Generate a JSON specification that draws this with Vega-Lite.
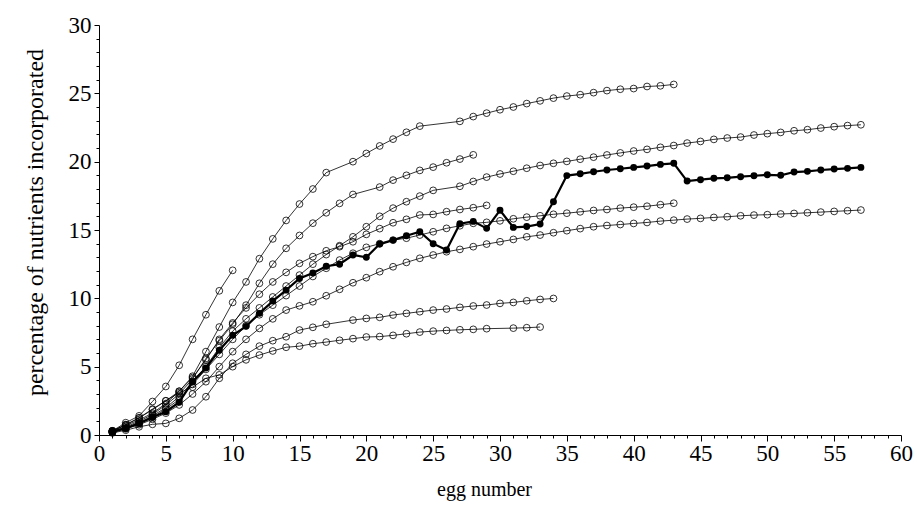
{
  "$schema": "https://vega.github.io/schema/vega-lite/v6.json",
  "autosize": {"type": "none"},
  "width": 802,
  "height": 410,
  "padding": {"left": 99, "top": 25, "right": 16, "bottom": 78},
  "background": "white",
  "config": {"view": {"stroke": null}},
  "data": {"values": [
    {"series":"A","egg":1,"pct":0.3},{"series":"A","egg":2,"pct":0.75},{"series":"A","egg":3,"pct":1.25},{"series":"A","egg":4,"pct":1.85},{"series":"A","egg":5,"pct":2.5},{"series":"A","egg":6,"pct":3.2},{"series":"A","egg":7,"pct":4.3},{"series":"A","egg":8,"pct":6.1},{"series":"A","egg":9,"pct":7.9},{"series":"A","egg":10,"pct":9.7},{"series":"A","egg":11,"pct":11.2},{"series":"A","egg":12,"pct":12.9},{"series":"A","egg":13,"pct":14.35},{"series":"A","egg":14,"pct":15.7},{"series":"A","egg":15,"pct":16.9},{"series":"A","egg":16,"pct":18.0},{"series":"A","egg":17,"pct":19.2},{"series":"A","egg":19,"pct":20.0},{"series":"A","egg":20,"pct":20.6},{"series":"A","egg":21,"pct":21.15},{"series":"A","egg":22,"pct":21.65},{"series":"A","egg":23,"pct":22.15},{"series":"A","egg":24,"pct":22.6},{"series":"A","egg":27,"pct":22.95},{"series":"A","egg":28,"pct":23.3},{"series":"A","egg":29,"pct":23.55},{"series":"A","egg":30,"pct":23.8},{"series":"A","egg":31,"pct":24.0},{"series":"A","egg":32,"pct":24.25},{"series":"A","egg":33,"pct":24.45},{"series":"A","egg":34,"pct":24.65},{"series":"A","egg":35,"pct":24.8},{"series":"A","egg":36,"pct":24.9},{"series":"A","egg":37,"pct":25.05},{"series":"A","egg":38,"pct":25.2},{"series":"A","egg":39,"pct":25.3},{"series":"A","egg":40,"pct":25.35},{"series":"A","egg":41,"pct":25.5},{"series":"A","egg":42,"pct":25.55},{"series":"A","egg":43,"pct":25.65},

    {"series":"B","egg":1,"pct":0.25},{"series":"B","egg":2,"pct":0.6},{"series":"B","egg":3,"pct":1.0},{"series":"B","egg":4,"pct":1.5},{"series":"B","egg":5,"pct":2.2},{"series":"B","egg":6,"pct":3.0},{"series":"B","egg":7,"pct":4.1},{"series":"B","egg":8,"pct":5.6},{"series":"B","egg":9,"pct":6.9},{"series":"B","egg":10,"pct":8.1},{"series":"B","egg":11,"pct":9.5},{"series":"B","egg":12,"pct":11.1},{"series":"B","egg":13,"pct":12.5},{"series":"B","egg":14,"pct":13.66},{"series":"B","egg":15,"pct":14.6},{"series":"B","egg":16,"pct":15.5},{"series":"B","egg":17,"pct":16.26},{"series":"B","egg":18,"pct":16.95},{"series":"B","egg":19,"pct":17.6},{"series":"B","egg":21,"pct":18.14},{"series":"B","egg":22,"pct":18.65},{"series":"B","egg":23,"pct":19.0},{"series":"B","egg":24,"pct":19.36},{"series":"B","egg":25,"pct":19.6},{"series":"B","egg":26,"pct":19.92},{"series":"B","egg":27,"pct":20.19},{"series":"B","egg":28,"pct":20.5},

    {"series":"C","egg":1,"pct":0.2},{"series":"C","egg":2,"pct":0.5},{"series":"C","egg":3,"pct":0.9},{"series":"C","egg":4,"pct":1.4},{"series":"C","egg":5,"pct":2.0},{"series":"C","egg":6,"pct":2.8},{"series":"C","egg":7,"pct":3.9},{"series":"C","egg":8,"pct":5.0},{"series":"C","egg":9,"pct":6.4},{"series":"C","egg":10,"pct":7.6},{"series":"C","egg":11,"pct":8.5},{"series":"C","egg":12,"pct":9.3},{"series":"C","egg":13,"pct":10.1},{"series":"C","egg":14,"pct":10.9},{"series":"C","egg":15,"pct":11.7},{"series":"C","egg":16,"pct":12.5},{"series":"C","egg":17,"pct":13.2},{"series":"C","egg":18,"pct":13.85},{"series":"C","egg":19,"pct":14.5},{"series":"C","egg":20,"pct":15.24},{"series":"C","egg":21,"pct":16.0},{"series":"C","egg":22,"pct":16.6},{"series":"C","egg":23,"pct":17.07},{"series":"C","egg":24,"pct":17.48},{"series":"C","egg":25,"pct":17.9},{"series":"C","egg":27,"pct":18.2},{"series":"C","egg":28,"pct":18.55},{"series":"C","egg":29,"pct":18.87},{"series":"C","egg":30,"pct":19.1},{"series":"C","egg":31,"pct":19.3},{"series":"C","egg":32,"pct":19.52},{"series":"C","egg":33,"pct":19.72},{"series":"C","egg":34,"pct":19.88},{"series":"C","egg":35,"pct":20.02},{"series":"C","egg":36,"pct":20.18},{"series":"C","egg":37,"pct":20.33},{"series":"C","egg":38,"pct":20.49},{"series":"C","egg":39,"pct":20.64},{"series":"C","egg":40,"pct":20.78},{"series":"C","egg":41,"pct":20.9},{"series":"C","egg":42,"pct":21.05},{"series":"C","egg":43,"pct":21.18},{"series":"C","egg":44,"pct":21.36},{"series":"C","egg":45,"pct":21.48},{"series":"C","egg":46,"pct":21.63},{"series":"C","egg":47,"pct":21.73},{"series":"C","egg":48,"pct":21.8},{"series":"C","egg":49,"pct":21.95},{"series":"C","egg":50,"pct":22.05},{"series":"C","egg":51,"pct":22.14},{"series":"C","egg":52,"pct":22.26},{"series":"C","egg":53,"pct":22.34},{"series":"C","egg":54,"pct":22.46},{"series":"C","egg":55,"pct":22.56},{"series":"C","egg":56,"pct":22.64},{"series":"C","egg":57,"pct":22.7},

    {"series":"E","egg":1,"pct":0.3},{"series":"E","egg":2,"pct":0.7},{"series":"E","egg":3,"pct":1.1},{"series":"E","egg":4,"pct":1.6},{"series":"E","egg":5,"pct":2.3},{"series":"E","egg":6,"pct":3.2},{"series":"E","egg":7,"pct":4.2},{"series":"E","egg":8,"pct":5.5},{"series":"E","egg":9,"pct":7.0},{"series":"E","egg":10,"pct":8.2},{"series":"E","egg":11,"pct":9.3},{"series":"E","egg":12,"pct":10.3},{"series":"E","egg":13,"pct":11.2},{"series":"E","egg":14,"pct":11.9},{"series":"E","egg":15,"pct":12.56},{"series":"E","egg":16,"pct":13.05},{"series":"E","egg":17,"pct":13.48},{"series":"E","egg":18,"pct":13.78},{"series":"E","egg":19,"pct":14.14},{"series":"E","egg":20,"pct":14.68},{"series":"E","egg":21,"pct":15.1},{"series":"E","egg":22,"pct":15.53},{"series":"E","egg":23,"pct":15.78},{"series":"E","egg":24,"pct":16.1},{"series":"E","egg":25,"pct":16.14},{"series":"E","egg":26,"pct":16.34},{"series":"E","egg":27,"pct":16.5},{"series":"E","egg":28,"pct":16.63},{"series":"E","egg":29,"pct":16.8},

    {"series":"F","egg":1,"pct":0.2},{"series":"F","egg":2,"pct":0.5},{"series":"F","egg":3,"pct":0.85},{"series":"F","egg":4,"pct":1.3},{"series":"F","egg":5,"pct":1.9},{"series":"F","egg":6,"pct":2.6},{"series":"F","egg":7,"pct":3.7},{"series":"F","egg":8,"pct":4.8},{"series":"F","egg":9,"pct":5.9},{"series":"F","egg":10,"pct":7.0},{"series":"F","egg":11,"pct":8.0},{"series":"F","egg":12,"pct":8.8},{"series":"F","egg":13,"pct":9.5},{"series":"F","egg":14,"pct":10.2},{"series":"F","egg":15,"pct":10.9},{"series":"F","egg":16,"pct":11.6},{"series":"F","egg":17,"pct":12.2},{"series":"F","egg":18,"pct":12.8},{"series":"F","egg":19,"pct":13.3},{"series":"F","egg":20,"pct":13.73},{"series":"F","egg":21,"pct":14.0},{"series":"F","egg":22,"pct":14.26},{"series":"F","egg":23,"pct":14.4},{"series":"F","egg":24,"pct":14.63},{"series":"F","egg":25,"pct":14.87},{"series":"F","egg":26,"pct":15.12},{"series":"F","egg":27,"pct":15.31},{"series":"F","egg":28,"pct":15.49},{"series":"F","egg":29,"pct":15.56},{"series":"F","egg":30,"pct":15.67},{"series":"F","egg":31,"pct":15.82},{"series":"F","egg":32,"pct":15.94},{"series":"F","egg":33,"pct":16.04},{"series":"F","egg":34,"pct":16.15},{"series":"F","egg":35,"pct":16.23},{"series":"F","egg":36,"pct":16.33},{"series":"F","egg":37,"pct":16.43},{"series":"F","egg":38,"pct":16.5},{"series":"F","egg":39,"pct":16.6},{"series":"F","egg":40,"pct":16.67},{"series":"F","egg":41,"pct":16.74},{"series":"F","egg":42,"pct":16.85},{"series":"F","egg":43,"pct":16.96},

    {"series":"G","egg":1,"pct":0.2},{"series":"G","egg":2,"pct":0.45},{"series":"G","egg":3,"pct":0.75},{"series":"G","egg":4,"pct":1.15},{"series":"G","egg":5,"pct":1.6},{"series":"G","egg":6,"pct":2.2},{"series":"G","egg":7,"pct":3.0},{"series":"G","egg":8,"pct":3.9},{"series":"G","egg":9,"pct":5.0},{"series":"G","egg":10,"pct":6.1},{"series":"G","egg":11,"pct":7.0},{"series":"G","egg":12,"pct":7.8},{"series":"G","egg":13,"pct":8.5},{"series":"G","egg":14,"pct":9.14},{"series":"G","egg":15,"pct":9.45},{"series":"G","egg":16,"pct":9.75},{"series":"G","egg":17,"pct":10.19},{"series":"G","egg":18,"pct":10.66},{"series":"G","egg":19,"pct":11.14},{"series":"G","egg":20,"pct":11.51},{"series":"G","egg":21,"pct":11.95},{"series":"G","egg":22,"pct":12.31},{"series":"G","egg":23,"pct":12.63},{"series":"G","egg":24,"pct":12.93},{"series":"G","egg":25,"pct":13.17},{"series":"G","egg":26,"pct":13.41},{"series":"G","egg":27,"pct":13.58},{"series":"G","egg":28,"pct":13.78},{"series":"G","egg":29,"pct":13.97},{"series":"G","egg":30,"pct":14.14},{"series":"G","egg":31,"pct":14.31},{"series":"G","egg":32,"pct":14.5},{"series":"G","egg":33,"pct":14.63},{"series":"G","egg":34,"pct":14.8},{"series":"G","egg":35,"pct":14.95},{"series":"G","egg":36,"pct":15.1},{"series":"G","egg":37,"pct":15.24},{"series":"G","egg":38,"pct":15.33},{"series":"G","egg":39,"pct":15.4},{"series":"G","egg":40,"pct":15.48},{"series":"G","egg":41,"pct":15.55},{"series":"G","egg":42,"pct":15.65},{"series":"G","egg":43,"pct":15.72},{"series":"G","egg":44,"pct":15.8},{"series":"G","egg":45,"pct":15.85},{"series":"G","egg":46,"pct":15.92},{"series":"G","egg":47,"pct":15.97},{"series":"G","egg":48,"pct":16.04},{"series":"G","egg":49,"pct":16.09},{"series":"G","egg":50,"pct":16.12},{"series":"G","egg":51,"pct":16.17},{"series":"G","egg":52,"pct":16.21},{"series":"G","egg":53,"pct":16.26},{"series":"G","egg":54,"pct":16.31},{"series":"G","egg":55,"pct":16.36},{"series":"G","egg":56,"pct":16.41},{"series":"G","egg":57,"pct":16.46},

    {"series":"H","egg":1,"pct":0.15},{"series":"H","egg":2,"pct":0.35},{"series":"H","egg":3,"pct":0.6},{"series":"H","egg":4,"pct":0.78},{"series":"H","egg":5,"pct":0.85},{"series":"H","egg":6,"pct":1.22},{"series":"H","egg":7,"pct":1.83},{"series":"H","egg":8,"pct":2.8},{"series":"H","egg":9,"pct":4.15},{"series":"H","egg":10,"pct":5.25},{"series":"H","egg":11,"pct":5.9},{"series":"H","egg":12,"pct":6.5},{"series":"H","egg":13,"pct":6.9},{"series":"H","egg":14,"pct":7.19},{"series":"H","egg":15,"pct":7.68},{"series":"H","egg":16,"pct":7.88},{"series":"H","egg":17,"pct":8.1},{"series":"H","egg":19,"pct":8.41},{"series":"H","egg":20,"pct":8.53},{"series":"H","egg":21,"pct":8.61},{"series":"H","egg":22,"pct":8.78},{"series":"H","egg":23,"pct":8.9},{"series":"H","egg":24,"pct":9.02},{"series":"H","egg":25,"pct":9.14},{"series":"H","egg":26,"pct":9.22},{"series":"H","egg":27,"pct":9.34},{"series":"H","egg":28,"pct":9.44},{"series":"H","egg":29,"pct":9.51},{"series":"H","egg":30,"pct":9.63},{"series":"H","egg":31,"pct":9.7},{"series":"H","egg":32,"pct":9.82},{"series":"H","egg":33,"pct":9.92},{"series":"H","egg":34,"pct":9.99},

    {"series":"I","egg":1,"pct":0.3},{"series":"I","egg":2,"pct":0.75},{"series":"I","egg":3,"pct":1.25},{"series":"I","egg":4,"pct":1.9},{"series":"I","egg":5,"pct":2.5},{"series":"I","egg":6,"pct":3.1},{"series":"I","egg":7,"pct":3.5},{"series":"I","egg":8,"pct":4.15},{"series":"I","egg":9,"pct":4.4},{"series":"I","egg":10,"pct":5.0},{"series":"I","egg":11,"pct":5.5},{"series":"I","egg":12,"pct":5.85},{"series":"I","egg":13,"pct":6.15},{"series":"I","egg":14,"pct":6.42},{"series":"I","egg":15,"pct":6.5},{"series":"I","egg":16,"pct":6.68},{"series":"I","egg":17,"pct":6.8},{"series":"I","egg":18,"pct":6.93},{"series":"I","egg":19,"pct":7.05},{"series":"I","egg":20,"pct":7.17},{"series":"I","egg":21,"pct":7.2},{"series":"I","egg":22,"pct":7.29},{"series":"I","egg":23,"pct":7.41},{"series":"I","egg":24,"pct":7.53},{"series":"I","egg":25,"pct":7.6},{"series":"I","egg":26,"pct":7.65},{"series":"I","egg":27,"pct":7.7},{"series":"I","egg":28,"pct":7.73},{"series":"I","egg":29,"pct":7.78},{"series":"I","egg":31,"pct":7.82},{"series":"I","egg":32,"pct":7.85},{"series":"I","egg":33,"pct":7.9},

    {"series":"J","egg":1,"pct":0.3},{"series":"J","egg":2,"pct":0.9},{"series":"J","egg":3,"pct":1.4},{"series":"J","egg":4,"pct":2.45},{"series":"J","egg":5,"pct":3.55},{"series":"J","egg":6,"pct":5.1},{"series":"J","egg":7,"pct":7.0},{"series":"J","egg":8,"pct":8.8},{"series":"J","egg":9,"pct":10.55},{"series":"J","egg":10,"pct":12.05},

    {"series":"D","egg":1,"pct":0.25},{"series":"D","egg":2,"pct":0.5},{"series":"D","egg":3,"pct":0.85},{"series":"D","egg":4,"pct":1.3},{"series":"D","egg":5,"pct":1.7},{"series":"D","egg":6,"pct":2.4},{"series":"D","egg":7,"pct":3.9},{"series":"D","egg":8,"pct":4.9},{"series":"D","egg":9,"pct":6.2},{"series":"D","egg":10,"pct":7.3},{"series":"D","egg":11,"pct":7.95},{"series":"D","egg":12,"pct":8.9},{"series":"D","egg":13,"pct":9.8},{"series":"D","egg":14,"pct":10.6},{"series":"D","egg":15,"pct":11.45},{"series":"D","egg":16,"pct":11.85},{"series":"D","egg":17,"pct":12.35},{"series":"D","egg":18,"pct":12.5},{"series":"D","egg":19,"pct":13.17},{"series":"D","egg":20,"pct":13.0},{"series":"D","egg":21,"pct":13.97},{"series":"D","egg":22,"pct":14.26},{"series":"D","egg":23,"pct":14.58},{"series":"D","egg":24,"pct":14.87},{"series":"D","egg":25,"pct":14.0},{"series":"D","egg":26,"pct":13.53},{"series":"D","egg":27,"pct":15.46},{"series":"D","egg":28,"pct":15.63},{"series":"D","egg":29,"pct":15.12},{"series":"D","egg":30,"pct":16.44},{"series":"D","egg":31,"pct":15.19},{"series":"D","egg":32,"pct":15.25},{"series":"D","egg":33,"pct":15.44},{"series":"D","egg":34,"pct":17.07},{"series":"D","egg":35,"pct":18.98},{"series":"D","egg":36,"pct":19.11},{"series":"D","egg":37,"pct":19.26},{"series":"D","egg":38,"pct":19.39},{"series":"D","egg":39,"pct":19.48},{"series":"D","egg":40,"pct":19.58},{"series":"D","egg":41,"pct":19.68},{"series":"D","egg":42,"pct":19.8},{"series":"D","egg":43,"pct":19.88},{"series":"D","egg":44,"pct":18.58},{"series":"D","egg":45,"pct":18.68},{"series":"D","egg":46,"pct":18.78},{"series":"D","egg":47,"pct":18.82},{"series":"D","egg":48,"pct":18.9},{"series":"D","egg":49,"pct":18.97},{"series":"D","egg":50,"pct":19.04},{"series":"D","egg":51,"pct":19.0},{"series":"D","egg":52,"pct":19.24},{"series":"D","egg":53,"pct":19.29},{"series":"D","egg":54,"pct":19.39},{"series":"D","egg":55,"pct":19.46},{"series":"D","egg":56,"pct":19.51},{"series":"D","egg":57,"pct":19.58}
  ]},
  "encoding": {
    "x": {
      "field": "egg", "type": "quantitative",
      "scale": {"domain": [0, 60], "nice": false, "zero": false},
      "axis": {
        "title": "egg number",
        "values": [0,1,2,3,4,5,6,7,8,9,10,11,12,13,14,15,16,17,18,19,20,21,22,23,24,25,26,27,28,29,30,31,32,33,34,35,36,37,38,39,40,41,42,43,44,45,46,47,48,49,50,51,52,53,54,55,56,57,58,59,60],
        "labelExpr": "datum.value % 5 === 0 ? datum.label : ''",
        "labelOverlap": false,
        "labelFlush": false,
        "grid": false,
        "domainColor": "black",
        "domainWidth": 1,
        "tickColor": "black",
        "tickWidth": 1,
        "tickSize": {"condition": {"test": "datum.value % 5 === 0", "value": 6}, "value": 3},
        "labelFont": "Liberation Serif",
        "labelFontSize": 23,
        "labelColor": "black",
        "labelPadding": 1,
        "titleFont": "Liberation Serif",
        "titleFontSize": 20,
        "titleFontWeight": "normal",
        "titleColor": "black",
        "titleX": 385,
        "titlePadding": 14
      }
    },
    "y": {
      "field": "pct", "type": "quantitative",
      "scale": {"domain": [0, 30], "nice": false},
      "axis": {
        "title": "percentage of nutrients incorporated",
        "values": [0,1,2,3,4,5,6,7,8,9,10,11,12,13,14,15,16,17,18,19,20,21,22,23,24,25,26,27,28,29,30],
        "labelExpr": "datum.value % 5 === 0 ? datum.label : ''",
        "labelOverlap": false,
        "labelFlush": false,
        "grid": false,
        "domainColor": "black",
        "domainWidth": 1,
        "tickColor": "black",
        "tickWidth": 1,
        "tickSize": {"condition": {"test": "datum.value % 5 === 0", "value": 5}, "value": 3},
        "labelFont": "Liberation Serif",
        "labelFontSize": 23,
        "labelColor": "black",
        "labelPadding": 3,
        "titleFont": "Liberation Serif",
        "titleFontSize": 24,
        "titleFontWeight": "normal",
        "titleColor": "black",
        "titleY": 197,
        "titlePadding": 21
      }
    }
  },
  "layer": [
    {
      "transform": [{"filter": "datum.series !== 'D'"}],
      "mark": {"type": "line", "color": "black", "strokeWidth": 0.8},
      "encoding": {"detail": {"field": "series"}}
    },
    {
      "transform": [{"filter": "datum.series !== 'D'"}],
      "mark": {"type": "point", "shape": "circle", "filled": false, "color": "black", "strokeWidth": 0.8, "size": 46, "opacity": 1},
      "encoding": {"detail": {"field": "series"}}
    },
    {
      "transform": [{"filter": "datum.series === 'D'"}],
      "mark": {"type": "line", "color": "black", "strokeWidth": 2.2},
      "encoding": {}
    },
    {
      "transform": [{"filter": "datum.series === 'D'"}],
      "mark": {"type": "point", "shape": "circle", "filled": true, "color": "black", "size": 48, "opacity": 1},
      "encoding": {}
    }
  ]
}
